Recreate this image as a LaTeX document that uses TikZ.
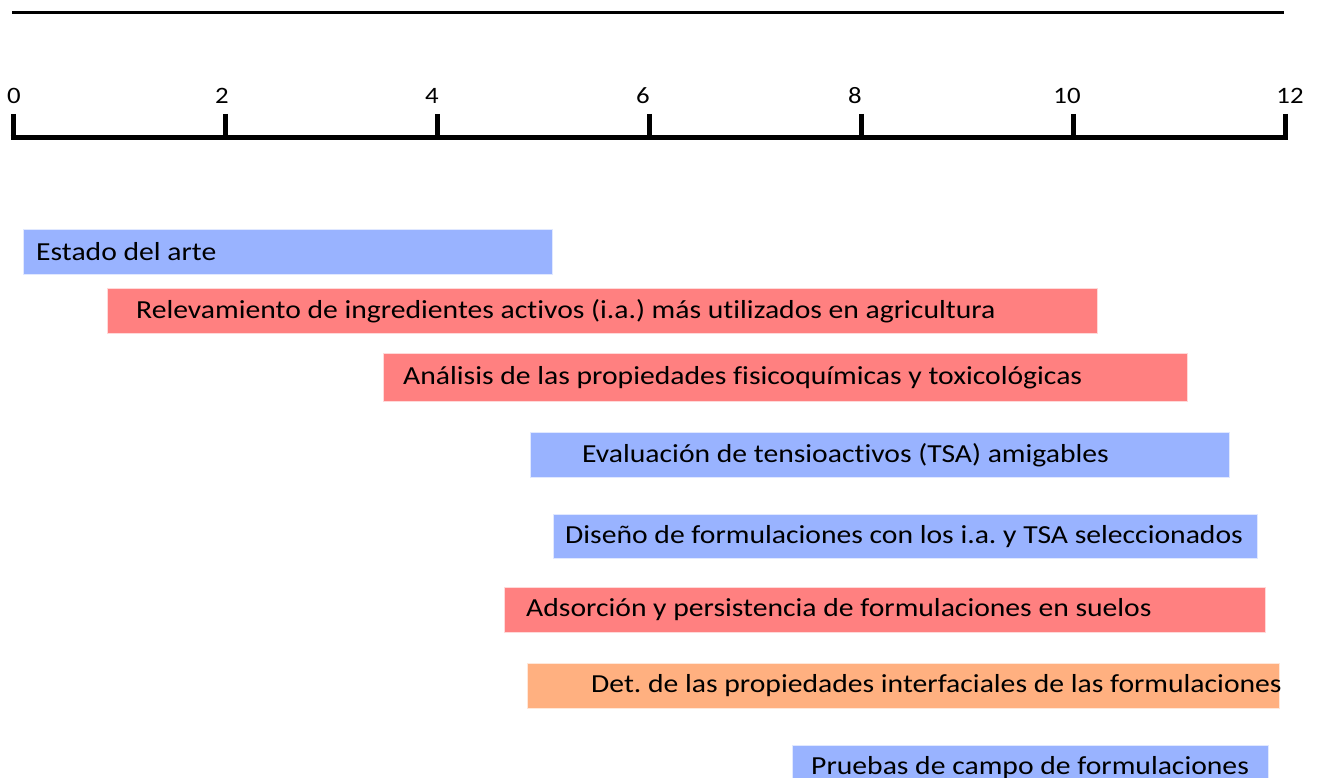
\documentclass[tikz,border=0pt]{standalone}
\usepackage{fontspec}
\setmainfont[Ligatures=NoCommon, FakeStretch=1.14]{Carlito}
\frenchspacing
\definecolor{barblue}{RGB}{153,179,255}
\definecolor{barred}{RGB}{255,128,128}
\definecolor{barorange}{RGB}{255,176,128}
\begin{document}
\begin{tikzpicture}[x=1pt,y=-1pt,
  bar/.style={rectangle, draw=white!70!#1, line width=0.8pt, fill=#1, minimum height=45pt, inner sep=0pt, anchor=north west},
  bartext/.style={anchor=west, inner sep=0pt, font=\fontsize{26}{30}\selectfont},
  ticklabel/.style={anchor=base, inner sep=0pt, font=\fontsize{23.5}{28}\selectfont},
  tickmark/.style={line width=5pt},
  axisline/.style={line width=5pt},
  topline/.style={line width=3pt}]
\useasboundingbox (0,0) rectangle (1317,778);
\clip (0,0) rectangle (1317,778);
% top rule
\coordinate (tl) at (12,13);
\coordinate (tr) at (1284,13);
\draw[topline] (tl) -- (tr);
% axis
\coordinate (al) at (10.5,138);
\coordinate (ar) at (1287.5,138);
\draw[axisline] (al) -- (ar);
\foreach \t/\lx in {0/14,2/222,4/432,6/643,8/855,10/1067,12/1290}{
  \coordinate (tk\t) at ({13+106*\t},114);
  \coordinate (tb\t) at ({13+106*\t},140);
  \draw[tickmark] (tk\t) -- (tb\t);
  \node[ticklabel] (lab\t) at (\lx,104) {\t};
}
% bars
\node[bar=barblue, minimum width=529pt] (b1) at (23,229) {};
\node[bartext] (t1) at ([xshift=13pt]b1.west) {Estado del arte};
\node[bar=barred, minimum width=990pt] (b2) at (107,288) {};
\node[bartext] (t2) at ([xshift=29pt]b2.west) {Relevamiento de ingredientes activos (i.a.) más utilizados en agricultura};
\node[bar=barred, minimum width=804pt, minimum height=48pt] (b3) at (383,353) {};
\node[bartext] (t3) at ([xshift=20pt]b3.west) {Análisis de las propiedades fisicoquímicas y toxicológicas};
\node[bar=barblue, minimum width=699pt] (b4) at (530,432) {};
\node[bartext] (t4) at ([xshift=52pt]b4.west) {Evaluación de tensioactivos (TSA) amigables};
\node[bar=barblue, minimum width=704pt, minimum height=44pt] (b5) at (553,514) {};
\node[bartext] (t5) at ([xshift=12pt]b5.west) {Diseño de formulaciones con los i.a. y TSA seleccionados};
\node[bar=barred, minimum width=761pt] (b6) at (504,587) {};
\node[bartext] (t6) at ([xshift=22pt]b6.west) {Adsorción y persistencia de formulaciones en suelos};
\node[bar=barorange, minimum width=752pt] (b7) at (527,663) {};
\node[bartext] (t7) at ([xshift=64pt]b7.west) {Det. de las propiedades interfaciales de las formulaciones};
\node[bar=barblue, minimum width=476pt] (b8) at (792,745) {};
\node[bartext] (t8) at ([xshift=19pt]b8.west) {Pruebas de campo de formulaciones};
\end{tikzpicture}
\end{document}
